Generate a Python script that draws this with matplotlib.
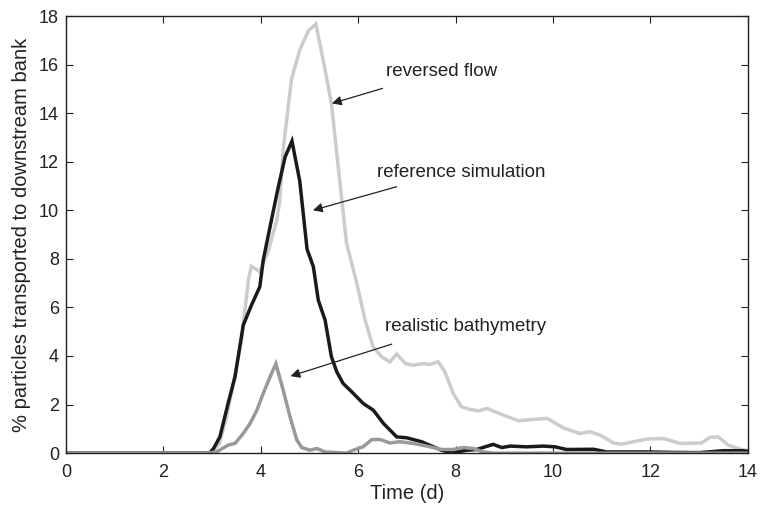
import matplotlib
matplotlib.use('Agg')
import matplotlib.pyplot as plt

plt.rcParams['font.family'] = ['Liberation Sans', 'DejaVu Sans']

# reversed flow (light grey)
t_rev = [0, 2.9, 3.0, 3.15, 3.3, 3.45, 3.6, 3.75, 3.81, 3.98, 4.15, 4.33, 4.39, 4.46,
         4.63, 4.8, 4.98, 5.13, 5.3, 5.45, 5.6, 5.76, 5.97, 6.14, 6.3, 6.48, 6.65, 6.79,
         6.97, 7.13, 7.34, 7.47, 7.64, 7.78, 7.95, 8.12, 8.3, 8.47, 8.64, 8.98, 9.29,
         9.6, 9.87, 9.97, 10.21, 10.55, 10.76, 10.97, 11.24, 11.41, 11.65, 11.92, 12.27,
         12.61, 13.05, 13.22, 13.39, 13.6, 13.87, 14.0]
v_rev = [0, 0, 0.05, 0.4, 1.5, 3.0, 4.6, 7.2, 7.7, 7.47, 8.3, 9.6, 10.4, 12.5,
         15.4, 16.6, 17.4, 17.67, 16.0, 14.4, 11.6, 8.65, 7.0, 5.5, 4.4, 3.97, 3.76, 4.08,
         3.69, 3.62, 3.69, 3.65, 3.76, 3.35, 2.46, 1.91, 1.8, 1.74, 1.84, 1.57, 1.33,
         1.39, 1.43, 1.33, 1.04, 0.81, 0.88, 0.74, 0.42, 0.37, 0.47, 0.58, 0.6,
         0.4, 0.42, 0.65, 0.67, 0.33, 0.15, 0.1]

# reference simulation (black)
t_ref = [0, 2.95, 3.03, 3.16, 3.33, 3.47, 3.64, 3.81, 3.98, 4.05, 4.19, 4.36, 4.5, 4.64,
         4.8, 4.95, 5.08, 5.18, 5.32, 5.45, 5.56, 5.69, 5.87, 6.1, 6.31, 6.52, 6.79, 7.0,
         7.3, 7.5, 7.71, 7.92, 8.23, 8.43, 8.77, 8.95, 9.12, 9.46, 9.8, 10.04, 10.28,
         10.83, 11.1, 11.92, 12.46, 13.0, 13.5, 13.87, 14.0]
v_ref = [0, 0, 0.19, 0.67, 2.06, 3.14, 5.27, 6.1, 6.85, 7.95, 9.32, 10.97, 12.2, 12.85,
         11.2, 8.4, 7.67, 6.3, 5.48, 3.97, 3.35, 2.87, 2.52, 2.05, 1.77, 1.22, 0.67, 0.63,
         0.47, 0.3, 0.12, 0.01, 0.12, 0.15, 0.36, 0.23, 0.29, 0.26, 0.29, 0.26, 0.15,
         0.16, 0.05, 0.05, 0.03, 0.02, 0.1, 0.1, 0.08]

# realistic bathymetry (mid grey)
t_bat = [0, 2.92, 3.09, 3.33, 3.47, 3.64, 3.78, 3.92, 4.05, 4.22, 4.31, 4.46, 4.6, 4.74,
         4.84, 5.01, 5.15, 5.32, 5.76, 5.9, 6.1, 6.28, 6.45, 6.65, 6.86, 7.13, 7.41, 7.71,
         7.95, 8.16, 8.36, 8.57, 8.77, 14.0]
v_bat = [0, 0, 0.05, 0.33, 0.4, 0.81, 1.22, 1.77, 2.46, 3.28, 3.68, 2.59, 1.5, 0.54,
         0.23, 0.12, 0.19, 0.05, 0, 0.12, 0.26, 0.56, 0.56, 0.42, 0.47, 0.4, 0.29, 0.15,
         0.15, 0.23, 0.19, 0.05, 0, 0]

x_ticks = list(range(0, 15, 2))
y_ticks = list(range(0, 19, 2))

fig = plt.figure(figsize=(7.61, 5.08), dpi=100)
ax = fig.add_axes([0.0867, 0.108, 0.896, 0.8605])

ax.plot(t_rev, v_rev, color='#cccccc', lw=2.5, solid_joinstyle='miter')
ax.plot(t_ref, v_ref, color='#1a1a1a', lw=2.5, solid_joinstyle='miter')
ax.plot(t_bat, v_bat, color='#999999', lw=2.5, solid_joinstyle='miter')

ax.set_xlim(0, 14)
ax.set_ylim(0, 18)
ax.set_xticks(x_ticks)
ax.set_yticks(y_ticks)
ax.tick_params(direction='in', top=True, right=True, length=5, width=0.8,
               labelsize=13, colors='#222222')
ax.tick_params(axis='x', pad=8)
ax.tick_params(axis='y', pad=5)
for s in ax.spines.values():
    s.set_linewidth(1.0)
    s.set_color('#222222')

ax.set_xlabel('Time (d)', fontsize=14.5, labelpad=2, color='#222222')
ax.set_ylabel('% particles transported to downstream bank', fontsize=14.5, labelpad=6,
              color='#222222')

arrow = dict(arrowstyle='-|>', color='#222222', lw=0.9, mutation_scale=14,
             shrinkA=0, shrinkB=0)
ax.annotate('', xy=(5.46, 14.4), xytext=(6.5, 15.02), arrowprops=arrow)
ax.text(6.57, 15.7, 'reversed flow', fontsize=13.5, va='center', color='#222222')
ax.annotate('', xy=(5.07, 10.0), xytext=(6.79, 10.97), arrowprops=arrow)
ax.text(6.39, 11.57, 'reference simulation', fontsize=13.5, va='center', color='#222222')
ax.annotate('', xy=(4.61, 3.17), xytext=(6.69, 4.49), arrowprops=arrow)
ax.text(6.55, 5.23, 'realistic bathymetry', fontsize=13.5, va='center', color='#222222')

fig.savefig('out.png', dpi=100)
